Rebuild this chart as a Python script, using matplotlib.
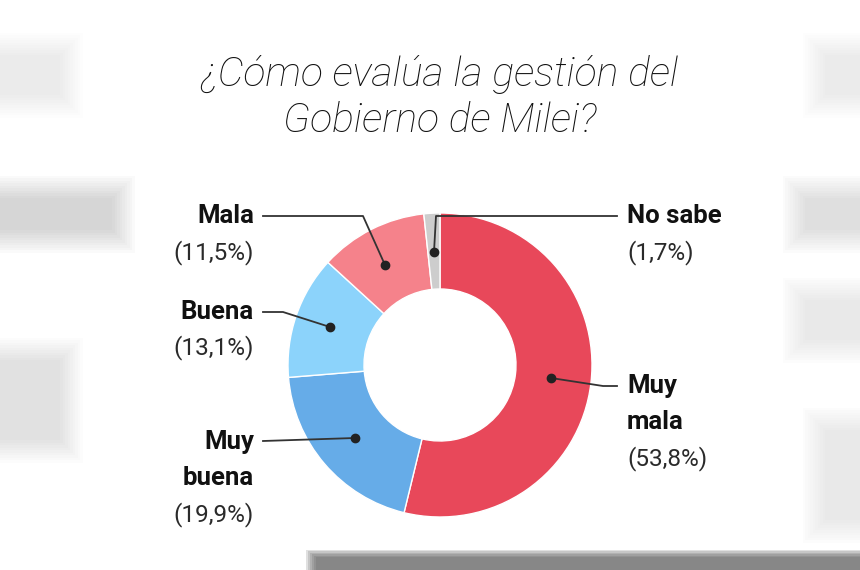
import matplotlib
matplotlib.use("Agg")
import matplotlib.pyplot as plt
from matplotlib.patches import Rectangle

categories = ["Muy mala", "Muy buena", "Buena", "Mala", "No sabe"]
values = [53.8, 19.9, 13.1, 11.5, 1.7]
value_labels = ["(53,8%)", "(19,9%)", "(13,1%)", "(11,5%)", "(1,7%)"]
colors = ["#E8485A", "#66ACE8", "#8CD3FB", "#F5828B", "#CDCDCD"]
title_lines = ["¿Cómo evalúa la gestión del", "Gobierno de Milei?"]

W, H = 860, 570
fig = plt.figure(figsize=(8.6, 5.7), dpi=100)
fig.patch.set_facecolor("white")
ax = fig.add_axes([0, 0, 1, 1])
ax.set_xlim(0, W)
ax.set_ylim(0, H)
ax.set_aspect("equal")
ax.axis("off")

def Y(y):
    return H - y

# faint blurred background decorations at edges
for (x, y, w, h, a) in [(0, 198, 112, 32, 0.30), (0, 55, 60, 40, 0.12),
                        (0, 360, 60, 80, 0.18), (805, 198, 55, 32, 0.25),
                        (805, 300, 55, 40, 0.15), (825, 55, 35, 40, 0.12),
                        (825, 430, 35, 90, 0.15)]:
    n = 10
    for k in range(n):
        ax.add_patch(Rectangle((x - k * 2.5, Y(y + h) - k * 2.5), w + k * 5, h + k * 5,
                               facecolor="#7a7a7a", edgecolor="none", alpha=a / n, zorder=0))
for k in range(6):
    ax.add_patch(Rectangle((316 - k * 2, 0), 560, 13 + k * 1.5, facecolor="#555555",
                           edgecolor="none", alpha=0.18, zorder=0))

cx, cy, R = 440, Y(365), 152
ax.pie(values, colors=colors, startangle=90, counterclock=False,
       center=(cx, cy), radius=R, frame=True,
       wedgeprops=dict(width=R * 0.5, edgecolor="white", linewidth=1))
ax.set_xlim(0, W)
ax.set_ylim(0, H)
ax.axis("off")

title_kw = dict(ha="center", va="center", fontsize=29.5, family="Roboto",
                fontweight="light", style="italic", color="#111111")
ax.text(440, Y(74), title_lines[0], **title_kw)
ax.text(440, Y(121), title_lines[1], **title_kw)

lab_kw = dict(fontsize=18.5, family="Roboto", fontweight="bold", color="#111111", va="center")
pct_kw = dict(fontsize=17.5, family="Roboto", fontweight="normal", color="#2a2a2a", va="center")
line_kw = dict(color="#333333", linewidth=1.3, zorder=5)
dot_kw = dict(color="#222222", markersize=6, zorder=6)

# Muy mala (right)
ax.text(627, Y(386), "Muy", ha="left", **lab_kw)
ax.text(627, Y(422), "mala", ha="left", **lab_kw)
ax.text(627, Y(459), value_labels[0], ha="left", **pct_kw)
ax.plot([551, 603, 617], [Y(378), Y(386), Y(386)], **line_kw)
ax.plot([551], [Y(378)], "o", **dot_kw)

# No sabe (right top)
ax.text(627, Y(216), "No sabe", ha="left", **lab_kw)
ax.text(627, Y(253), value_labels[4], ha="left", **pct_kw)
ax.plot([434, 436, 617], [Y(252), Y(216), Y(216)], **line_kw)
ax.plot([434], [Y(252)], "o", **dot_kw)

# Mala (left top)
ax.text(254, Y(216), "Mala", ha="right", **lab_kw)
ax.text(254, Y(253), value_labels[3], ha="right", **pct_kw)
ax.plot([263, 363, 385], [Y(216), Y(216), Y(265)], **line_kw)
ax.plot([385], [Y(265)], "o", **dot_kw)

# Buena
ax.text(254, Y(312), "Buena", ha="right", **lab_kw)
ax.text(254, Y(348), value_labels[2], ha="right", **pct_kw)
ax.plot([263, 283, 330], [Y(312), Y(312), Y(327)], **line_kw)
ax.plot([330], [Y(327)], "o", **dot_kw)

# Muy buena
ax.text(254, Y(442), "Muy", ha="right", **lab_kw)
ax.text(254, Y(478), "buena", ha="right", **lab_kw)
ax.text(254, Y(515), value_labels[1], ha="right", **pct_kw)
ax.plot([263, 355], [Y(441), Y(438)], **line_kw)
ax.plot([355], [Y(438)], "o", **dot_kw)

fig.savefig("out.png", dpi=100, facecolor="white")
